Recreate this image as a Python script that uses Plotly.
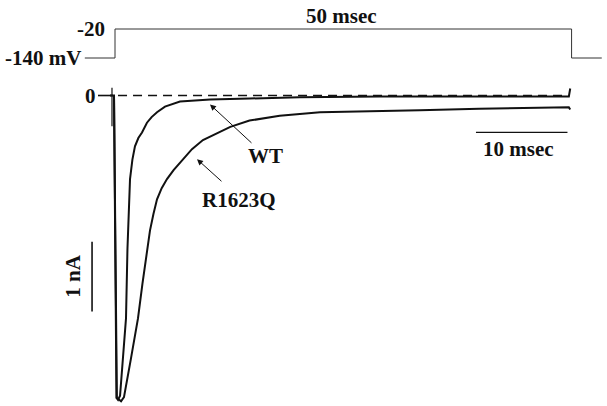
import plotly.graph_objects as go

# ---------------- data ----------------
# Voltage protocol (ms, mV)
v_time = [-3.3, 0.0, 0.0, 49.9, 49.9, 53.2]
v_mv = [-140, -140, -20, -20, -140, -140]

# WT current trace (ms, nA)
wt_time = [-0.55, -0.11, 0.16, 0.33, 0.55, 0.85, 1.20, 1.36, 1.64, 1.90, 2.18, 2.55, 2.95,
           3.49, 4.0, 4.59, 5.46, 7.10, 10.4, 14.7, 20.2, 28.9, 38.8, 49.6, 49.75]
wt_na = [0.0, 0.0, -4.34, -4.37, -4.31, -3.80, -3.20, -2.20, -1.20, -0.92, -0.73, -0.61, -0.53,
         -0.39, -0.31, -0.24, -0.16, -0.086, -0.057, -0.043, -0.024, -0.014, -0.014, -0.014, 0.10]

# R1623Q current trace (ms, nA)
r_time = [-0.11, 0.20, 0.66, 0.98, 1.75, 2.51, 3.0, 3.49, 3.82, 4.2, 4.59, 5.10, 5.68, 6.4, 7.10,
          8.41, 9.61, 11.1, 12.6, 14.7, 18.0, 22.4, 27.8, 33.3, 39.8, 49.6, 49.75]
r_na = [0.0, -4.34, -4.39, -4.33, -3.77, -3.20, -2.70, -2.20, -1.94, -1.70, -1.49, -1.33, -1.20,
        -1.07, -0.96, -0.77, -0.64, -0.55, -0.45, -0.36, -0.29, -0.24, -0.22, -0.21, -0.19, -0.17, -0.20]

# capacitive artifact at step onset (ms, nA)
art_time = [-0.33, -0.33]
art_na = [0.11, -0.44]

# scale bars
scale_ms = 10
scale_na = 1

# labels
v_labels = ["-20", "-140 mV"]
step_label = "50 msec"
trace_labels = ["WT", "R1623Q"]

# ---------------- figure ----------------
BLACK = "#111111"
FONT = dict(family="Liberation Serif", size=21, color=BLACK, weight="bold")

fig = go.Figure()

fig.add_trace(go.Scatter(x=v_time, y=v_mv, yaxis="y2", mode="lines",
                         line=dict(color="#333333", width=1), hoverinfo="skip"))

# zero reference: short solid tick + dashed line
fig.add_trace(go.Scatter(x=[-1.86, -0.22], y=[0, 0], mode="lines",
                         line=dict(color=BLACK, width=1.6), hoverinfo="skip"))
fig.add_trace(go.Scatter(x=[0.33, 49.4], y=[0, 0], mode="lines",
                         line=dict(color=BLACK, width=1.6, dash="9px,6px"), hoverinfo="skip"))

fig.add_trace(go.Scatter(x=art_time, y=art_na, mode="lines",
                         line=dict(color=BLACK, width=1.2), hoverinfo="skip"))
fig.add_trace(go.Scatter(x=wt_time, y=wt_na, mode="lines",
                         line=dict(color=BLACK, width=2), hoverinfo="skip"))
fig.add_trace(go.Scatter(x=r_time, y=r_na, mode="lines",
                         line=dict(color=BLACK, width=2), hoverinfo="skip"))

# scale bars
bar_t0 = 39.45
bar_i = -0.53
fig.add_trace(go.Scatter(x=[bar_t0, bar_t0 + scale_ms], y=[bar_i, bar_i], mode="lines",
                         line=dict(color=BLACK, width=1.3), hoverinfo="skip"))
bar_t = -2.51
bar_i0 = -2.1
fig.add_trace(go.Scatter(x=[bar_t, bar_t], y=[bar_i0, bar_i0 - scale_na], mode="lines",
                         line=dict(color=BLACK, width=1.6), hoverinfo="skip"))

ann = []
ann.append(dict(x=-0.87, y=-20, xref="x", yref="y2", text=v_labels[0], showarrow=False,
                xanchor="right", yanchor="middle", font=FONT))
ann.append(dict(x=-3.5, y=-140, xref="x", yref="y2", text=v_labels[1], showarrow=False,
                xanchor="right", yanchor="middle", font=FONT))
ann.append(dict(x=24.7, y=33.8, xref="x", yref="y2", text=step_label, showarrow=False,
                xanchor="center", yanchor="middle", font=FONT))
ann.append(dict(x=-2.73, y=0, xref="x", yref="y", text="0", showarrow=False,
                xanchor="center", yanchor="middle", font=FONT))
ann.append(dict(x=16.5, y=-0.864, xref="x", yref="y", text=trace_labels[0], showarrow=False,
                xanchor="center", yanchor="middle", font=FONT))
ann.append(dict(x=13.6, y=-1.507, xref="x", yref="y", text=trace_labels[1], showarrow=False,
                xanchor="center", yanchor="middle", font=FONT))
ann.append(dict(x=bar_t0 + scale_ms / 2 - 0.3, y=-0.764, xref="x", yref="y",
                text=f"{scale_ms} msec", showarrow=False,
                xanchor="center", yanchor="middle", font=FONT))
ann.append(dict(x=-4.59, y=bar_i0 - scale_na / 2, xref="x", yref="y",
                text=f"{scale_na} nA", showarrow=False, textangle=-90,
                xanchor="center", yanchor="middle", font=FONT))
# arrows
ann.append(dict(x=10.38, y=-0.129, ax=15.08, ay=-0.70, xref="x", yref="y",
                axref="x", ayref="y", text="", showarrow=True, arrowhead=2,
                arrowsize=1.2, arrowwidth=1, arrowcolor=BLACK))
ann.append(dict(x=8.96, y=-0.914, ax=11.8, ay=-1.25, xref="x", yref="y",
                axref="x", ayref="y", text="", showarrow=True, arrowhead=2,
                arrowsize=1.2, arrowwidth=1, arrowcolor=BLACK))

fig.update_layout(
    width=607, height=406,
    margin=dict(l=0, r=0, t=0, b=0),
    paper_bgcolor="white", plot_bgcolor="white",
    showlegend=False,
    xaxis=dict(range=[-12.57, 53.77], visible=False, fixedrange=True),
    yaxis=dict(range=[-4.457, 1.371], visible=False, fixedrange=True),
    yaxis2=dict(range=[-1580, 100], overlaying="y", visible=False, fixedrange=True),
    annotations=ann,
)

# remove the default page margin so the 607x406 figure fills the window exactly
fig.write_html("out.html", config={"displayModeBar": False},
               post_script="document.body.style.margin='0';")
